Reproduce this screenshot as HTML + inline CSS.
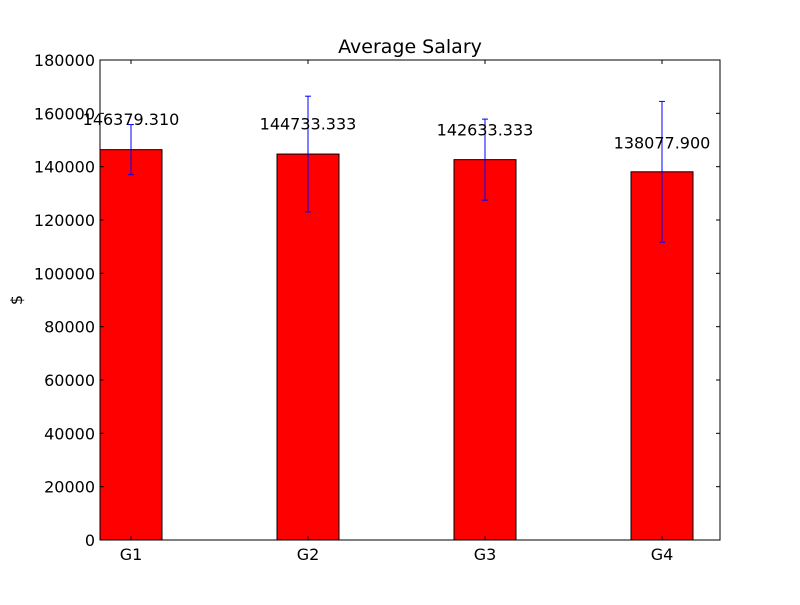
<!DOCTYPE html>
<html><head><meta charset="utf-8"><style>
body{margin:0;background:#fff;}
svg text{font-family:"DejaVu Sans","Liberation Sans",sans-serif;}
</style></head><body>
<svg id="chart" width="800" height="600" xmlns="http://www.w3.org/2000/svg">
<rect width="800" height="600" fill="#fff"/>
<g id="bars"></g>
<g id="axes"></g>
</svg>
<script>
const categories = ["G1","G2","G3","G4"];
const values = [146379.310, 144733.333, 142633.333, 138077.900];
const errors = [9400, 21700, 15200, 26400];
const valueLabels = ["146379.310","144733.333","142633.333","138077.900"];
const yTicks = [0,20000,40000,60000,80000,100000,120000,140000,160000,180000];

const L=100,R=720,T=60,B=540,yMax=180000;
const y = v => B - v/yMax*(B-T);
const step = 177, barW = 62;
const xc = i => 131 + i*step;
const ns="http://www.w3.org/2000/svg";
function mk(tag,attrs,parent){const e=document.createElementNS(ns,tag);for(const k in attrs)e.setAttribute(k,attrs[k]);parent.appendChild(e);return e;}
const bars=document.getElementById('bars'), axes=document.getElementById('axes');

categories.forEach((c,i)=>{
  const r=mk('rect',{x:xc(i)-barW/2,y:y(values[i]),width:barW,height:B-y(values[i]),fill:'#ff0000',stroke:'#000','stroke-width':1},bars);
  
  
  const g=mk('g',{},bars);
  
  
  const t1=y(values[i]+errors[i]), t2=y(values[i]-errors[i]);
  mk('line',{x1:xc(i),x2:xc(i),y1:t1,y2:t2,stroke:'#0000ff','stroke-width':1},g);
  mk('line',{x1:xc(i)-3,x2:xc(i)+3,y1:t1,y2:t1,stroke:'#0000ff','stroke-width':1},g);
  mk('line',{x1:xc(i)-3,x2:xc(i)+3,y1:t2,y2:t2,stroke:'#0000ff','stroke-width':1},g);
  const vl=mk('text',{x:xc(i),y:y(values[i]*1.05)-5,'text-anchor':'middle','font-size':16},bars);
  vl.textContent=valueLabels[i];
  
  
  const xl=mk('text',{x:xc(i),y:560,'text-anchor':'middle','font-size':16},axes);
  xl.textContent=c;
  
  
  mk('line',{x1:xc(i),x2:xc(i),y1:B,y2:B-4,stroke:'#000'},axes);
  mk('line',{x1:xc(i),x2:xc(i),y1:T,y2:T+4,stroke:'#000'},axes);
});
yTicks.forEach(v=>{
  const yy=y(v);
  mk('line',{x1:L,x2:L+4,y1:yy,y2:yy,stroke:'#000'},axes);
  mk('line',{x1:R,x2:R-4,y1:yy,y2:yy,stroke:'#000'},axes);
  const t=mk('text',{x:L-5,y:yy+6,'text-anchor':'end','font-size':16},axes);
  t.textContent=v;
  
  
});
const frame=mk('rect',{x:L,y:T,width:R-L,height:B-T,fill:'none',stroke:'#000','stroke-width':1},axes);


const title=mk('text',{x:410,y:53,'text-anchor':'middle','font-size':19},axes);
title.textContent='Average Salary';


const yt=mk('text',{x:22,y:300,'text-anchor':'middle','font-size':16,transform:'rotate(-90 22 300)'},axes);
yt.textContent='$';


</script>
</body></html>
